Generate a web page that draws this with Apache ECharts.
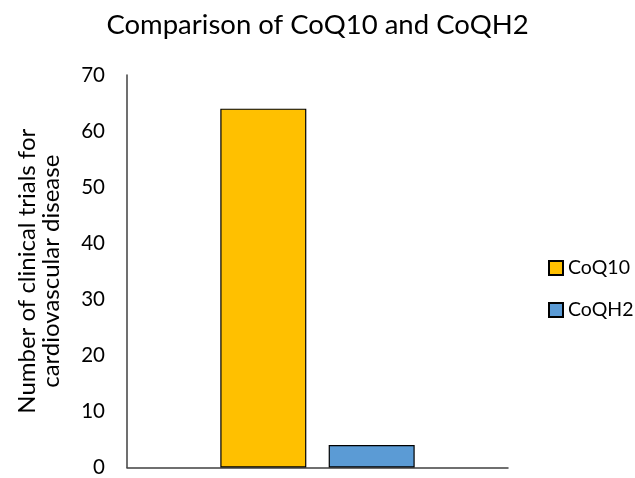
<!DOCTYPE html>
<html><head><meta charset="utf-8">
<script src="https://cdn.jsdelivr.net/npm/echarts@6/dist/echarts.min.js"></script>
<style>html,body{margin:0;padding:0;background:#fff}#c{width:635px;height:478px}</style>
</head><body><div id="c"></div>
<script>
const categories = [''];
const seriesNames = ['CoQ10', 'CoQH2'];
const coq10Values = [64];
const coqh2Values = [4];
const yTicks = [0, 10, 20, 30, 40, 50, 60, 70];

const font = 'Lato, "Open Sans", sans-serif';
const chart = echarts.init(document.getElementById('c'));
chart.setOption({
  animation: false,
  backgroundColor: '#fff',
  textStyle: { fontFamily: font },
  title: {
    text: 'Comparison of CoQ10 and CoQH2',
    left: 'center', top: 6,
    textStyle: { fontFamily: font, fontSize: 27.5, fontWeight: 'normal', color: '#000' }
  },
  legend: {
    orient: 'vertical', left: 548, top: 258, itemGap: 22, padding: 0,
    itemWidth: 14, itemHeight: 14, icon: 'rect',
    textStyle: { fontFamily: font, fontSize: 19.5, color: '#000' },
    data: seriesNames
  },
  grid: { left: 127, right: 127, top: 75, bottom: 5, containLabel: false },
  xAxis: {
    type: 'category', data: categories,
    axisLine: { lineStyle: { color: '#404040', width: 1.5 } },
    axisTick: { show: false }, axisLabel: { show: false }
  },
  yAxis: {
    type: 'value', min: yTicks[0], max: yTicks[yTicks.length - 1], interval: 10,
    name: 'Number of clinical trials for\ncardiovascular disease',
    nameLocation: 'middle', nameGap: 64, nameRotate: 90,
    nameTextStyle: { fontFamily: font, fontSize: 24, color: '#000', lineHeight: 24 },
    axisLine: { show: true, lineStyle: { color: '#404040', width: 1.5 } },
    axisTick: { show: false },
    splitLine: { show: false },
    axisLabel: { margin: 22, fontFamily: font, fontSize: 20.5, color: '#000' }
  },
  series: [
    { name: seriesNames[0], type: 'bar', data: coq10Values, barWidth: 86, barGap: '26%',
      itemStyle: { color: '#FFC000', borderColor: '#000', borderWidth: 1.2 } },
    { name: seriesNames[1], type: 'bar', data: coqh2Values, barWidth: 86,
      itemStyle: { color: '#5B9BD5', borderColor: '#000', borderWidth: 1.2 } }
  ]
});
</script></body></html>
